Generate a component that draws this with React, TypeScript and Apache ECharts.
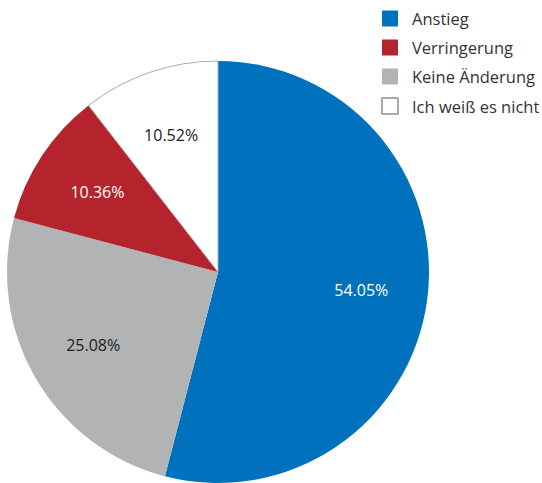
import React, { useEffect, useRef } from "react";
import * as echarts from "echarts";

const categories = ["Anstieg", "Keine Änderung", "Verringerung", "Ich weiß es nicht"];
const values = [54.05, 25.08, 10.36, 10.52];
const legendOrder = ["Anstieg", "Verringerung", "Keine Änderung", "Ich weiß es nicht"];
const colors = ["#0071BC", "#B1B3B4", "#B5242C", "#FFFFFF"];
const labelColors = ["#FFFFFF", "#222222", "#FFFFFF", "#222222"];

export default function App() {
  const ref = useRef<HTMLDivElement>(null);
  useEffect(() => {
    document.body.style.margin = "0";
    const chart = echarts.init(ref.current!, null, { renderer: "svg" });
    const font = "'Open Sans', 'Noto Sans', sans-serif";
    chart.setOption({
      animation: false,
      backgroundColor: "#FFFFFF",
      legend: {
        data: legendOrder,
        orient: "vertical",
        left: 376,
        top: 5,
        itemWidth: 16,
        itemHeight: 16,
        itemGap: 12,
        icon: "rect",
        textStyle: { fontFamily: font, fontSize: 16.5, lineHeight: 16, color: "#333333", padding: [0, 0, 0, 9] },
      },
      series: [
        {
          type: "pie",
          center: [218, 272],
          radius: [0, 211],
          startAngle: 90,
          clockwise: true,
          silent: true,
          label: { show: false },
          labelLine: { show: false },
          data: categories.map((c, i) => ({
            name: c,
            value: values[i],
            itemStyle: {
              color: colors[i],
              borderColor: i === 3 ? "#AAAAAA" : colors[i],
              borderWidth: i === 3 ? 1 : 0,
            },
          })),
        },
        {
          type: "pie",
          center: [218, 272],
          radius: [72, 211],
          startAngle: 90,
          clockwise: true,
          silent: true,
          legendHoverLink: false,
          itemStyle: { color: "transparent", borderWidth: 0 },
          label: {
            show: true,
            position: "inside",
            fontFamily: font,
            fontSize: 16,
            formatter: (p: any) => values[p.dataIndex].toFixed(2) + "%",
          },
          labelLine: { show: false },
          data: categories.map((c, i) => ({
            name: c,
            value: values[i],
            itemStyle: { color: "rgba(0,0,0,0)", borderWidth: 0 },
            label: { color: labelColors[i] },
          })),
        },
      ],
    });
    return () => chart.dispose();
  }, []);
  return <div ref={ref} style={{ width: 542, height: 483 }} />;
}
